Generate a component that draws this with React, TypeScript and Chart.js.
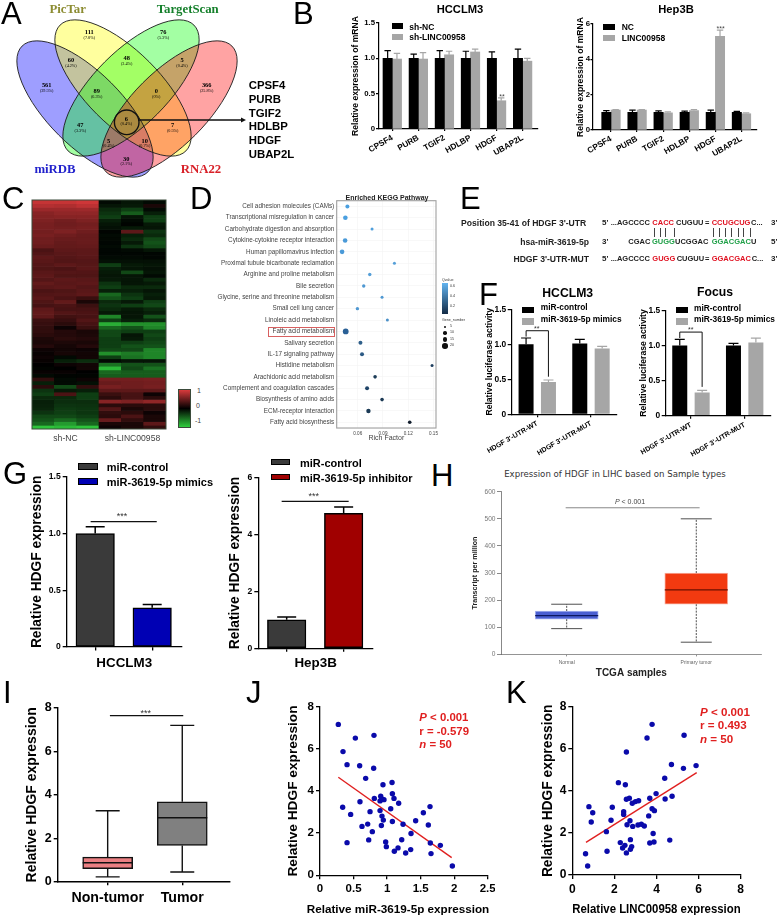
import React, { useEffect, useRef } from "react";
import { Chart, registerables } from "chart.js";

Chart.register(...registerables);

const SANS = '"Liberation Sans", Arial, sans-serif';
const SERIF = '"Liberation Serif", "Times New Roman", serif';
Chart.defaults.font.family = SANS;

/* ---------- data ---------- */
const GENES = ["CPSF4", "PURB", "TGIF2", "HDLBP", "HDGF", "UBAP2L"];
const B1_NC = [1, 1, 1, 1, 1, 1];
const B1_NC_ERR = [0.11, 0.06, 0.11, 0.1, 0.09, 0.13];
const B1_SH = [0.99, 0.99, 1.05, 1.09, 0.4, 0.96];
const B1_SH_ERR = [0.08, 0.09, 0.05, 0.04, 0.04, 0.04];
const B2_NC = [1, 1, 1, 1, 1, 1];
const B2_NC_ERR = [0.1, 0.12, 0.08, 0.07, 0.13, 0.05];
const B2_LINC = [1.13, 1.13, 0.97, 1.1, 5.3, 0.92];
const B2_LINC_ERR = [0.03, 0.03, 0.06, 0.06, 0.35, 0.05];

const VENN_CX = [85, 123, 131, 169];
const VENN_CY = [109, 88, 88, 109];
const VENN_ANGLE = [45, 45, -45, -45];
const VENN_RX = [89, 89, 89, 89];
const VENN_RY = [37, 37, 37, 37];
const VENN_FILL = ["rgba(0,0,255,.38)", "rgba(255,255,0,.38)", "rgba(0,255,0,.36)", "rgba(255,0,0,.36)"];
const VENN_COUNTS: [string, string, number, number][] = [
  ["111", "(7.8%)", 89.3, 32.3], ["76", "(5.3%)", 163.3, 32.3], ["60", "(4.2%)", 71, 60],
  ["48", "(3.4%)", 126.7, 58.3], ["5", "(0.4%)", 182, 60], ["561", "(39.5%)", 46.7, 85],
  ["89", "(6.3%)", 96.7, 91], ["0", "(0%)", 156.3, 91], ["366", "(25.8%)", 206.7, 85],
  ["47", "(3.3%)", 80.3, 125], ["6", "(0.4%)", 126.3, 118.7], ["7", "(0.5%)", 172.7, 125],
  ["5", "(0.4%)", 108.7, 140.7], ["10", "(0.7%)", 144.7, 140.7], ["30", "(2.1%)", 126.3, 158.7],
];
const VENN_GENES = ["CPSF4", "PURB", "TGIF2", "HDLBP", "HDGF", "UBAP2L"];

const HEAT_COLUMNS = ["", "sh-NC", "", "", "sh-LINC00958", ""];
const HEAT: number[][] = [
  [.85,.85,.9,-.05,-.1,-.05],[.75,.72,.8,-.1,-.12,.05],[.6,.6,.62,-.2,-.3,-.05],[.5,.55,.55,-.25,-.45,-.15],
  [.48,.5,.5,-.3,-.1,-.3],[.45,.4,.45,-.15,-.05,-.3],[.42,.38,.4,-.1,-.02,-.12],[.42,.4,.42,-.08,-.12,-.1],
  [.4,.45,.38,-.02,.3,-.25],[.42,.38,.35,-.05,-.15,-.2],[.38,.35,.35,-.04,-.2,-.35],[.38,.33,.35,-.03,-.12,-.4],
  [.35,.32,.33,-.05,-.25,-.35],[.22,.3,.3,-.03,-.05,-.1],[.25,.28,.3,-.03,-.03,-.03],[.3,.26,.28,-.05,-.05,-.03],
  [.28,.25,.26,-.08,-.08,-.08],[.26,.3,.27,-.3,-.12,-.1],[.24,.22,.28,-.15,-.1,-.08],[.28,.26,.25,-.12,-.35,-.1],
  [.3,.24,.24,-.1,-.1,-.05],[.26,.3,.28,-.12,-.1,-.2],[.32,.28,.3,-.25,-.1,-.12],[.28,.3,.26,-.3,-.2,-.2],
  [.22,.24,.28,-.15,-.15,-.1],[.25,.26,.3,-.5,-.25,-.15],[.28,.22,.15,-.4,-.3,-.12],[.24,.32,.05,-.2,-.12,-.3],
  [.2,.22,.16,-.25,-.3,-.35],[.3,.2,.2,-.2,-.12,-.2],[.32,.25,.22,-.12,-.1,-.15],[.3,.18,.2,-.65,-.1,-.4],
  [.16,.14,.25,-.3,-.15,-.2],[.14,.1,.2,-.85,-.7,-.7],[.12,.02,.15,-.5,-.4,-.65],[.12,.08,.05,-.35,-.3,-.3],
  [.1,.08,.06,-.35,-.1,-.35],[.06,.1,.08,-.3,-.12,-.3],[.05,.06,.05,-.3,-.3,-.35],[.08,.04,.08,-.3,-.4,-.4],
  [.02,.03,.02,-.35,-.35,-.65],[.01,.04,.03,-.7,-.6,-.65],[.02,-.05,.03,-.3,-.55,-.65],[.01,-.15,-.22,-.05,-.1,-.1],
  [0,.02,.03,-.55,-.4,-.4],[-.02,0,.03,-.9,-.35,-.55],[.01,.01,0,-.5,-.45,-.45],[-.05,-.02,-.02,-.45,-.45,-.45],
  [.12,-.05,.02,.4,.4,.42],[-.15,-.05,-.08,.35,.38,.4],[.1,-.35,.12,.42,.38,.42],[-.25,-.12,-.15,.3,.3,.3],
  [-.3,.22,-.3,.15,.2,.02],[-.2,-.2,-.3,.1,.2,.1],[-.15,-.22,-.22,.5,.45,.55],[-.16,-.25,-.24,.1,.1,.1],
  [-.18,-.28,-.26,.25,.05,.1],[-.25,-.3,-.26,.12,.1,.02],[-.35,-.35,-.3,.1,.22,.05],[-.4,-.5,-.4,.35,.12,.05],
  [-.5,-.75,-.5,.05,.05,.3],[-.95,-.9,-.95,.02,.05,.12],
];

const PATHWAYS = [
  "Cell adhesion molecules (CAMs)", "Transcriptional misregulation in cancer", "Carbohydrate digestion and absorption",
  "Cytokine-cytokine receptor interaction", "Human papillomavirus infection", "Proximal tubule bicarbonate reclamation",
  "Arginine and proline metabolism", "Bile secretion", "Glycine, serine and threonine metabolism", "Small cell lung cancer",
  "Linoleic acid metabolism", "Fatty acid metabolism", "Salivary secretion", "IL-17 signaling pathway", "Histidine metabolism",
  "Arachidonic acid metabolism", "Complement and coagulation cascades", "Biosynthesis of amino acids",
  "ECM-receptor interaction", "Fatty acid biosynthesis",
];
const RICH = [.0477,.0453,.077,.045,.0414,.1036,.0743,.0671,.0889,.0596,.0952,.0457,.0632,.0651,.1483,.0806,.0711,.0889,.0727,.1218];
const DOT_R = [2,2.3,1.5,2.3,2.3,1.5,1.7,1.7,1.5,1.7,1.5,2.9,2,2,1.5,1.8,2,1.8,2.2,1.8];
const DOT_C = ["#4a9fe0","#4a9fe0","#4f9fdc","#4a9ad8","#4a9ad8","#559fd8","#559fd8","#4f98d2","#4f98d2","#4f98d2","#4a90c8","#2a6096","#2f5f8a","#2c5a85","#1f3f5f","#1d3d58","#1f4468","#1c3a55","#1b3a55","#111d2c"];

const F_GROUPS = ["HDGF 3'-UTR-WT", "HDGF 3'-UTR-MUT"];
const F1_CTRL = [1, 1.01];
const F1_CTRL_ERR = [0.09, 0.06];
const F1_MIM = [0.46, 0.94];
const F1_MIM_ERR = [0.03, 0.03];
const F2_CTRL = [1, 1];
const F2_CTRL_ERR = [0.085, 0.03];
const F2_MIM = [0.33, 1.04];
const F2_MIM_ERR = [0.03, 0.065];

const G1_VALUES = [1, 0.345];
const G1_ERR = [0.06, 0.03];
const G2_VALUES = [1, 4.75];
const G2_ERR = [0.1, 0.22];

const H_LABELS = ["Normal", "Primary tumor"];
const H_LOW = [95, 45];
const H_Q1 = [130, 185];
const H_MED = [143, 238];
const H_Q3 = [160, 300];
const H_HIGH = [185, 500];

const I_LABELS = ["Non-tumor", "Tumor"];
const I_LOW = [0.22, 0.45];
const I_Q1 = [0.6, 1.67];
const I_MED = [0.87, 2.95];
const I_Q3 = [1.13, 3.68];
const I_HIGH = [3.27, 7.2];

const J_X = [.273,.527,.805,.343,.403,.591,.8,.681,.939,1.074,1.079,1.103,.81,.905,.919,.954,.895,.596,.338,1.173,1.054,.895,.457,.746,.924,.944,1.079,1.541,1.64,1.426,1.238,1.615,.711,.626,.915,.78,1.357,1.218,.726,.403,.979,.989,1.794,1.645,1.163,1.108,1.352,1.277,1.655,1.973];
const J_Y = [7.16,6.51,6.64,5.87,5.25,5.2,5.08,4.6,4.3,4.4,3.87,3.65,3.65,3.75,3.62,3.59,3.53,3.49,3.23,3.42,3.16,3.07,2.89,3.02,2.81,2.62,2.55,2.97,3.26,2.59,2.42,2.39,2.43,2.32,2.36,2.07,1.98,1.69,1.68,1.55,1.58,1.36,1.42,1.53,1.3,1.14,1.22,1.06,1.03,.44];
const J_FIT_X = [0.273, 1.963];
const J_FIT_Y = [4.65, 0.84];

const K_X = [3.79,3.55,5.31,2.57,4.71,5.28,5.88,4.39,2.19,2.52,3.98,4.74,2.57,2.71,3.68,4.41,2.85,3,3.15,1.9,.79,3.79,3.9,.97,2.44,2.44,3.63,1.84,2.74,.9,2.6,2.87,3.12,3.28,3.42,1.62,3.84,2.76,4.63,2.28,3.68,3.88,2.5,2.82,2.39,2.76,1.65,2.57,.63,.73];
const K_Y = [7.16,6.51,6.64,5.85,5.25,5.07,5.2,4.6,4.39,4.29,3.87,3.74,3.6,3.65,3.65,3.61,3.41,3.49,3.53,3.22,3.25,3.15,3.06,2.96,3.01,2.88,2.81,2.6,2.58,2.52,2.39,2.31,2.38,2.41,2.33,2.06,1.97,1.68,1.66,1.54,1.52,1.57,1.41,1.35,1.28,1.22,1.13,1.05,1.01,.43];
const K_FIT_X = [0.65, 5.91];
const K_FIT_Y = [1.55, 4.87];

/* ---------- plugins ---------- */
const errorBars = {
  id: "errorBars",
  afterDatasetsDraw(chart: any) {
    const ctx = chart.ctx;
    chart.data.datasets.forEach((ds: any, i: number) => {
      if (!ds.errors) return;
      const meta = chart.getDatasetMeta(i);
      ctx.save();
      ctx.strokeStyle = ds.errColor || ds.backgroundColor;
      ctx.lineWidth = ds.errWidth || 1.2;
      meta.data.forEach((el: any, j: number) => {
        const y = chart.scales.y.getPixelForValue(ds.values[j] + ds.errors[j]);
        const cap = ds.cap || 3;
        ctx.beginPath();
        ctx.moveTo(el.x, el.y);
        ctx.lineTo(el.x, y);
        ctx.moveTo(el.x - cap, y);
        ctx.lineTo(el.x + cap, y);
        ctx.stroke();
      });
      ctx.restore();
    });
  },
};

const boxes = {
  id: "boxes",
  afterDatasetsDraw(chart: any) {
    const ctx = chart.ctx;
    const y = chart.scales.y;
    chart.data.datasets.forEach((ds: any, i: number) => {
      if (!ds.med) return;
      const meta = chart.getDatasetMeta(i);
      meta.data.forEach((el: any, j: number) => {
        ctx.save();
        ctx.strokeStyle = ds.whiskColor;
        ctx.lineWidth = ds.whiskWidth;
        ctx.setLineDash(ds.whiskDash || []);
        ctx.beginPath();
        ctx.moveTo(el.x, y.getPixelForValue(ds.q3[j]));
        ctx.lineTo(el.x, y.getPixelForValue(ds.high[j]));
        ctx.moveTo(el.x, y.getPixelForValue(ds.q1[j]));
        ctx.lineTo(el.x, y.getPixelForValue(ds.low[j]));
        ctx.stroke();
        ctx.setLineDash([]);
        ctx.beginPath();
        [ds.high[j], ds.low[j]].forEach((v: number) => {
          ctx.moveTo(el.x - ds.capHalf, y.getPixelForValue(v));
          ctx.lineTo(el.x + ds.capHalf, y.getPixelForValue(v));
        });
        ctx.stroke();
        ctx.strokeStyle = ds.medColors[j];
        ctx.lineWidth = ds.medWidth;
        ctx.beginPath();
        ctx.moveTo(el.x - ds.barThickness / 2, y.getPixelForValue(ds.med[j]));
        ctx.lineTo(el.x + ds.barThickness / 2, y.getPixelForValue(ds.med[j]));
        ctx.stroke();
        ctx.restore();
      });
    });
  },
};

type Poly = { pts: number[][]; color: string; width: number };
const annot = (list: Poly[]) => ({
  id: "annot",
  afterDatasetsDraw(chart: any) {
    const { ctx, scales } = chart;
    list.forEach((p) => {
      ctx.save();
      ctx.strokeStyle = p.color;
      ctx.lineWidth = p.width;
      ctx.beginPath();
      p.pts.forEach(([a, b], i) => {
        const px = scales.x.getPixelForValue(a);
        const py = scales.y.getPixelForValue(b);
        if (i) ctx.lineTo(px, py);
        else ctx.moveTo(px, py);
      });
      ctx.stroke();
      ctx.restore();
    });
  },
});

const frame = (color: string, width: number) => ({
  id: "frame",
  afterDatasetsDraw(chart: any) {
    const { ctx, chartArea: a } = chart;
    ctx.save();
    ctx.strokeStyle = color;
    ctx.lineWidth = width;
    ctx.strokeRect(a.left, a.top, a.right - a.left, a.bottom - a.top);
    ctx.restore();
  },
});

const venn = {
  id: "venn",
  beforeDatasetsDraw(chart: any) {
    const { ctx, scales } = chart;
    const draw = (i: number) => {
      ctx.beginPath();
      ctx.ellipse(
        scales.x.getPixelForValue(VENN_CX[i]), scales.y.getPixelForValue(VENN_CY[i]),
        VENN_RX[i], VENN_RY[i], (VENN_ANGLE[i] * Math.PI) / 180, 0, Math.PI * 2
      );
    };
    ctx.save();
    VENN_CX.forEach((_, i) => { draw(i); ctx.fillStyle = VENN_FILL[i]; ctx.fill(); });
    ctx.strokeStyle = "#1a1a1a";
    ctx.lineWidth = 0.9;
    VENN_CX.forEach((_, i) => { draw(i); ctx.stroke(); });
    const cx = scales.x.getPixelForValue(126.7), cy = scales.y.getPixelForValue(122.3);
    ctx.lineWidth = 1.4;
    ctx.strokeStyle = "#111";
    ctx.beginPath(); ctx.arc(cx, cy, 12.3, 0, Math.PI * 2); ctx.stroke();
    ctx.beginPath(); ctx.moveTo(138, 120); ctx.lineTo(243, 120); ctx.stroke();
    ctx.fillStyle = "#111";
    ctx.beginPath(); ctx.moveTo(246, 120); ctx.lineTo(241, 117.6); ctx.lineTo(241, 122.4); ctx.closePath(); ctx.fill();
    ctx.restore();
  },
};

/* ---------- layout helpers ---------- */
type R = { x: number; y: number; w: number; h: number };
type P = { l: number; t: number; r: number; b: number };
const layout = (c: R, p: P) => ({
  autoPadding: false,
  padding: { left: 0, top: p.t - c.y, right: c.x + c.w - p.r, bottom: 0 },
});
const zero = (s: any) => { s.paddingLeft = s.paddingRight = s.paddingTop = s.paddingBottom = 0; };

function axisY(c: R, p: P, o: any) {
  const titleSize = o.titleSize || 8;
  return {
    type: o.type || "linear",
    min: o.min, max: o.max,
    labels: o.labels, offset: o.offset,
    ticks: {
      stepSize: o.step, autoSkip: false, padding: o.pad ?? 2, color: o.color || "#000",
      font: { size: o.size, weight: o.bold === false ? "normal" : "bold", family: SANS },
    },
    grid: { display: true, drawOnChartArea: !!o.grid, drawTicks: true, tickLength: o.tick ?? 4, color: o.grid || o.axisColor || "#000", lineWidth: o.lw ?? 1.2 },
    border: { display: o.noBorder ? false : true, color: o.axisColor || "#000", width: o.lw ?? 1.2 },
    title: o.title ? {
      display: true, text: o.title, color: o.titleColor || "#000",
      font: { size: titleSize, weight: "bold", family: SANS },
      padding: { top: o.titleX - c.x - titleSize * 0.6, bottom: 0 },
    } : { display: false },
    afterFit: (s: any) => { s.width = p.l - c.x; zero(s); },
  };
}

function axisX(c: R, p: P, o: any) {
  const titleSize = o.titleSize || 8;
  const labels: string[] | undefined = o.labels;
  return {
    type: "linear",
    offset: false,
    min: o.min, max: o.max,
    afterBuildTicks: labels ? (s: any) => { s.ticks = labels.map((_, i) => ({ value: i })); } : undefined,
    ticks: {
      stepSize: o.step, autoSkip: false, padding: o.pad ?? 2, color: o.color || "#000", includeBounds: false,
      minRotation: o.rot || 0, maxRotation: o.rot || 0,
      font: { size: o.size, weight: o.bold === false ? "normal" : "bold", family: SANS },
      callback: labels ? (v: number) => labels[v] : undefined,
    },
    grid: { display: true, offset: false, drawOnChartArea: !!o.grid, drawTicks: true, tickLength: o.tick ?? 4, color: o.grid || o.axisColor || "#000", lineWidth: o.lw ?? 1.2 },
    border: { display: o.noBorder ? false : true, color: o.axisColor || "#000", width: o.lw ?? 1.2 },
    title: o.title ? {
      display: true, text: o.title, color: o.titleColor || "#000",
      font: { size: titleSize, weight: o.titleNormal ? "normal" : "bold", family: SANS },
      padding: { top: 0, bottom: c.y + c.h - o.titleY - titleSize * 0.6 },
    } : { display: false },
    afterFit: (s: any) => { s.height = c.y + c.h - p.b; zero(s); },
  };
}

const pts = (values: number[]) => values.map((y, x) => ({ x, y }));
const baseOptions = (c: R, p: P, scales: any) => ({
  responsive: false, animation: false as const, devicePixelRatio: 1,
  layout: layout(c, p),
  plugins: { legend: { display: false }, tooltip: { enabled: false }, title: { display: false } },
  scales,
});

function barDs(values: number[], errors: number[], color: any, extra: any = {}) {
  return {
    data: pts(values), values, errors, backgroundColor: color, errColor: color, borderWidth: 0, borderSkipped: false, ...extra,
  };
}

function groupedBars(c: R, p: P, a: number[], ae: number[], b: number[], be: number[], yo: any, xo: any, thick: any, cap: number, extra: any[] = [], gray = "#a6a6a6") {
  return {
    rect: c,
    config: {
      type: "bar",
      data: { datasets: [
        barDs(a, ae, "#000", { ...thick, cap }),
        barDs(b, be, gray, { ...thick, cap }),
      ] },
      options: baseOptions(c, p, { x: axisX(c, p, xo), y: axisY(c, p, yo) }),
      plugins: [errorBars, annot(extra)],
    },
  };
}

function scatterChart(c: R, p: P, X: number[], Y: number[], fx: number[], fy: number[], xo: any, yo: any) {
  return {
    rect: c,
    config: {
      type: "scatter",
      data: { datasets: [
        { data: X.map((x, i) => ({ x, y: Y[i] })), backgroundColor: "#0a0aaa", pointRadius: 2.7, pointBorderWidth: 0, showLine: false },
        { data: fx.map((x, i) => ({ x, y: fy[i] })), borderColor: "#e02020", borderWidth: 1.4, pointRadius: 0, showLine: true },
      ] },
      options: baseOptions(c, p, { x: axisX(c, p, xo), y: axisY(c, p, yo) }),
    },
  };
}

const heatColor = (v: number) => {
  const t = v >= 0 ? Math.pow(v, 0.72) : -v;
  const rgb = v >= 0 ? [222, 58, 60] : [48, 205, 62];
  return `rgb(${rgb.map((k) => Math.round(k * t)).join(",")})`;
};

function buildCharts() {
  const list: { rect: R; config: any }[] = [];

  // A
  const vc = { x: 0, y: 0, w: 260, h: 190 };
  list.push({
    rect: vc,
    config: {
      type: "scatter",
      data: { datasets: [{ data: VENN_COUNTS.map((r) => ({ x: r[2], y: r[3] })), pointRadius: 0 }] },
      options: {
        responsive: false, animation: false, devicePixelRatio: 1,
        plugins: { legend: { display: false }, tooltip: { enabled: false } },
        scales: {
          x: { type: "linear", display: false, min: 0, max: 260 },
          y: { type: "linear", display: false, min: 0, max: 190, reverse: true },
        },
      },
      plugins: [venn],
    },
  });

  // B
  const b1c = { x: 340, y: 15, w: 205, h: 165 }, b1p = { l: 379, t: 23, r: 538, b: 129 };
  list.push(groupedBars(b1c, b1p, B1_NC, B1_NC_ERR, B1_SH, B1_SH_ERR,
    { min: 0, max: 1.5, step: 0.5, size: 7.8, title: "Relative expression of mRNA", titleX: 356, titleSize: 8.6, tick: 3, pad: 1 },
    { min: -0.51, max: 5.59, labels: GENES, size: 8.2, rot: 30, tick: 2, pad: 2 }, { barThickness: 9.3 }, 3.2));
  const b2c = { x: 555, y: 15, w: 215, h: 165 }, b2p = { l: 593, t: 24, r: 757, b: 130 };
  list.push(groupedBars(b2c, b2p, B2_NC, B2_NC_ERR, B2_LINC, B2_LINC_ERR,
    { min: 0, max: 6, step: 2, size: 7.8, title: "Relative expression of mRNA", titleX: 580.6, titleSize: 8.6, tick: 2.5, pad: 0.5 },
    { min: -0.69, max: 5.595, labels: GENES, size: 8.2, rot: 30, tick: 2, pad: 2 }, { barThickness: 9.3 }, 3.2));

  // C
  const cc = { x: 28, y: 196, w: 142, h: 250 }, cp = { l: 32, t: 200, r: 166, b: 429 };
  list.push({
    rect: cc,
    config: {
      type: "bar",
      data: {
        labels: HEAT_COLUMNS,
        datasets: HEAT.map((row) => ({
          data: row.map(() => 1),
          backgroundColor: row.map(heatColor),
          borderWidth: 0, barPercentage: 1, categoryPercentage: 1, stack: "s",
        })),
      },
      options: baseOptions(cc, cp, {
        x: {
          type: "category", stacked: true,
          ticks: { autoSkip: false, maxRotation: 0, minRotation: 0, padding: 4, color: "#444", font: { size: 8.6, family: SANS } },
          grid: { display: false, drawTicks: false }, border: { display: false },
          afterFit: (s: any) => { s.height = cc.y + cc.h - cp.b; zero(s); },
        },
        y: {
          type: "linear", stacked: true, reverse: true, display: true, min: 0, max: HEAT.length,
          ticks: { display: false }, grid: { display: false }, border: { display: false },
          afterFit: (s: any) => { s.width = cp.l - cc.x; zero(s); },
        },
      }),
      plugins: [frame("#3a4a3a", 1)],
    },
  });

  // D
  const dc = { x: 205, y: 190, w: 240, h: 255 }, dp = { l: 336.7, t: 200.7, r: 436, b: 428 };
  list.push({
    rect: dc,
    config: {
      type: "scatter",
      data: { datasets: [{
        data: RICH.map((x, i) => ({ x, y: PATHWAYS[i] })),
        pointRadius: DOT_R, backgroundColor: DOT_C, pointBorderWidth: 0, showLine: false,
      }] },
      options: baseOptions(dc, dp, {
        x: axisX(dc, dp, { min: 0.035, max: 0.153, step: 0.03, size: 4.6, bold: false, color: "#444", tick: 1, pad: 1.5, lw: 0.5, grid: "#f1f1f1", axisColor: "#f1f1f1", title: "Rich Factor", titleNormal: true, titleY: 438, titleSize: 7, titleColor: "#444" }),
        y: axisY(dc, dp, { type: "category", labels: PATHWAYS, offset: true, size: 6.35, bold: false, color: "#444", tick: 1, pad: 1.5, lw: 0.5, grid: "#f1f1f1", axisColor: "#f1f1f1" }),
      }),
      plugins: [frame("#a0a0a0", 1.1)],
    },
  });

  // F
  const f1c = { x: 470, y: 300, w: 155, h: 160 }, f1p = { l: 511.7, t: 309.3, r: 616.7, b: 414.3 };
  const fxo = { labels: F_GROUPS, size: 7, rot: 30, tick: 3, pad: 2, min: -0.476, max: 1.479 };
  list.push(groupedBars(f1c, f1p, F1_CTRL, F1_CTRL_ERR, F1_MIM, F1_MIM_ERR,
    { min: 0, max: 1.5, step: 0.5, size: 8.4, title: "Relative luciferase activity", titleX: 490, titleSize: 8.6, pad: 1.5 },
    fxo, { barPercentage: 0.67, categoryPercentage: 0.834 }, 5,
    [{ pts: [[-0.208, 1.11], [-0.208, 1.194], [0.208, 1.194], [0.208, 0.537]], color: "#111", width: 1 }]));
  const f2c = { x: 625, y: 300, w: 153, h: 160 }, f2p = { l: 665.7, t: 310.3, r: 771, b: 415.7 };
  list.push(groupedBars(f2c, f2p, F2_CTRL, F2_CTRL_ERR, F2_MIM, F2_MIM_ERR,
    { min: 0, max: 1.5, step: 0.5, size: 8.4, title: "Relative luciferase activity", titleX: 644, titleSize: 8.6, pad: 1.5 },
    { ...fxo, min: -0.47, max: 1.49 }, { barPercentage: 0.67, categoryPercentage: 0.834 }, 5,
    [{ pts: [[-0.208, 1.105], [-0.208, 1.19], [0.208, 1.19], [0.208, 0.41]], color: "#111", width: 1 }]));

  // G
  const gBar = (c: R, p: P, values: number[], errs: number[], colors: string[], yo: any, xo: any, line: number[][]) => ({
    rect: c,
    config: {
      type: "bar",
      data: { datasets: [{
        data: pts(values), values, errors: errs, backgroundColor: colors, errColor: "#000", errWidth: 1.5, cap: 9.5,
        borderColor: "#000", borderWidth: 1.5, borderSkipped: false, barThickness: 38.5,
      }] },
      options: baseOptions(c, p, { x: axisX(c, p, xo), y: axisY(c, p, yo) }),
      plugins: [errorBars, annot([{ pts: line, color: "#111", width: 1.2 }])],
    },
  });
  const g1c = { x: 20, y: 470, w: 170, h: 205 }, g1p = { l: 66.7, t: 476.7, r: 181.7, b: 647 };
  list.push(gBar(g1c, g1p, G1_VALUES, G1_ERR, ["#3a3a3a", "#0000b4"],
    { min: 0, max: 1.5, step: 0.5, size: 8.6, title: "Relative HDGF expression", titleX: 36.7, titleSize: 13.8, pad: 2, lw: 1.3 },
    { min: -0.5, max: 1.518, labels: ["", ""], size: 6, tick: 3.5, lw: 1.3, title: "HCCLM3", titleY: 663, titleSize: 13.4 },
    [[-0.08, 1.104], [1.08, 1.104]]));
  const g2c = { x: 218, y: 470, w: 160, h: 205 }, g2p = { l: 258.3, t: 477.7, r: 373, b: 648.3 };
  list.push(gBar(g2c, g2p, G2_VALUES, G2_ERR, ["#3a3a3a", "#a00000"],
    { min: 0, max: 6, step: 2, size: 8.6, title: "Relative HDGF expression", titleX: 235, titleSize: 13.8, pad: 2, lw: 1.3 },
    { min: -0.498, max: 1.515, labels: ["", ""], size: 6, tick: 3.5, lw: 1.3, title: "Hep3B", titleY: 663, titleSize: 13.4 },
    [[-0.088, 5.17], [1.088, 5.17]]));

  // H
  const hc = { x: 465, y: 485, w: 305, h: 195 }, hp = { l: 501, t: 491.7, r: 761.7, b: 654.4 };
  list.push({
    rect: hc,
    config: {
      type: "bar",
      data: { datasets: [{
        data: H_Q1.map((q, i) => ({ x: i, y: [q, H_Q3[i]] })),
        low: H_LOW, q1: H_Q1, med: H_MED, q3: H_Q3, high: H_HIGH,
        backgroundColor: ["#4a5fd2", "#f23a10"], borderColor: ["#a8b4ee", "#f8b0a0"], borderWidth: 1, borderSkipped: false,
        barThickness: 63, whiskColor: "#222", whiskWidth: 0.8, whiskDash: [2, 1.2], capHalf: 15.5,
        medColors: ["#0c1860", "#6a1000"], medWidth: 1.3,
      }] },
      options: baseOptions(hc, hp, {
        x: axisX(hc, hp, { min: -0.507, max: 1.505, labels: H_LABELS, size: 5, bold: false, color: "#666", tick: 2, pad: 3, lw: 0.7, axisColor: "#666", title: "TCGA samples", titleY: 673.3, titleSize: 10, titleColor: "#222" }),
        y: axisY(hc, hp, { min: 0, max: 600, step: 100, size: 6.6, bold: false, color: "#777", tick: 4, pad: 1.5, lw: 0.7, axisColor: "#555", title: "Transcript per million", titleX: 474.7, titleSize: 7.2, titleColor: "#222" }),
      }),
      plugins: [boxes, annot([{ pts: [[-0.008, 540.7], [1.026, 540.7]], color: "#888", width: 1 }])],
    },
  });

  // I
  const ic = { x: 15, y: 700, w: 225, h: 210 }, ip = { l: 57.7, t: 708, r: 230, b: 881.7 };
  list.push({
    rect: ic,
    config: {
      type: "bar",
      data: { datasets: [{
        data: I_Q1.map((q, i) => ({ x: i, y: [q, I_Q3[i]] })),
        low: I_LOW, q1: I_Q1, med: I_MED, q3: I_Q3, high: I_HIGH,
        backgroundColor: ["#ea7f82", "#808080"], borderColor: "#111", borderWidth: 1.5, borderSkipped: false,
        barThickness: 50, whiskColor: "#111", whiskWidth: 1.4, capHalf: 12,
        medColors: ["#111", "#111"], medWidth: 1.5,
      }] },
      options: baseOptions(ic, ip, {
        x: axisX(ic, ip, { min: -0.67, max: 1.64, labels: I_LABELS, size: 14.2, tick: 3.5, pad: 4, lw: 1.4 }),
        y: axisY(ic, ip, { min: 0, max: 8, step: 2, size: 12.5, tick: 4, pad: 2, lw: 1.4, title: "Relative HDGF expression", titleX: 31.7, titleSize: 14 }),
      }),
      plugins: [boxes, annot([{ pts: [[0.03, 7.65], [1.013, 7.65]], color: "#111", width: 1.3 }])],
    },
  });

  // J
  const jc = { x: 280, y: 700, w: 215, h: 215 }, jp = { l: 320, t: 706.7, r: 487.7, b: 875.3 };
  list.push(scatterChart(jc, jp, J_X, J_Y, J_FIT_X, J_FIT_Y,
    { min: 0, max: 2.5, step: 0.5, size: 11.5, tick: 4, pad: 3, lw: 1.3 },
    { min: 0, max: 8, step: 2, size: 11.5, tick: 4, pad: 2, lw: 1.3, title: "Relative HDGF expression", titleX: 293.3, titleSize: 13.7 }));

  // K
  const kc = { x: 530, y: 700, w: 220, h: 215 }, kp = { l: 572.3, t: 706.7, r: 740.7, b: 875 };
  list.push(scatterChart(kc, kp, K_X, K_Y, K_FIT_X, K_FIT_Y,
    { min: 0, max: 8, step: 2, size: 12, tick: 4, pad: 3, lw: 1.3, title: "Relative LINC00958 expression", titleY: 909, titleSize: 12.7 },
    { min: 0, max: 8, step: 2, size: 12, tick: 4, pad: 2, lw: 1.3, title: "Relative HDGF expression", titleX: 548, titleSize: 13.8 }));

  return list;
}

/* ---------- DOM text ---------- */
const T = ({ x, y, s, b, c, f, a = "l", children, i }: any) => (
  <div style={{
    position: "absolute", left: x, top: y,
    transform: `translate(${a === "c" ? -50 : a === "r" ? -100 : 0}%,-50%)`,
    fontSize: s, fontWeight: b ? 700 : 400, fontStyle: i ? "italic" : "normal",
    color: c || "#000", fontFamily: f || SANS, whiteSpace: "nowrap", lineHeight: 1,
  }}>{children}</div>
);
const Sw = ({ x, y, w, h, c, bd }: any) => (
  <div style={{ position: "absolute", left: x, top: y, width: w, height: h, background: c, boxSizing: "border-box", border: bd ? `1px solid ${bd}` : "none" }} />
);

const RED = "#e01020";
const GREEN = "#1fa048";
const seqX = (z: number) => 445 + z / 3;
const SEQ_ROWS: [number, [number, string, string][]][] = [
  [223, [[497, "...AGCCCC", "#222"], [622, "CACC", RED], [693, "CUGUU", "#222"], [780, "=", "#222"], [800, "CCUGCUG", RED], [918, "C...", "#222"]]],
  [242, [[550, "CGAC", "#222"], [621, "GUGG", GREEN], [690, "UCGGAC", "#222"], [800, "GGACGAC", GREEN], [918, "U", "#222"]]],
  [259, [[497, "...AGCCCC", "#222"], [622, "GUGG", RED], [695, "CUGUU", "#222"], [780, "=", "#222"], [800, "GGACGAC", RED], [920, "C...", "#222"]]],
];
const PAIR_LINES = [628, 645, 660, 688, 805, 823, 840, 858, 878, 895, 915];
const KEGG_SIZES: [string, number, number][] = [["5", 327, 1.3], ["10", 333, 1.8], ["15", 339.5, 2.3], ["20", 346, 2.8]];

export default function App() {
  const specs = useRef(buildCharts());
  const refs = useRef<(HTMLCanvasElement | null)[]>([]);

  useEffect(() => {
    const charts = specs.current.map((s, i) => new Chart(refs.current[i] as any, s.config));
    return () => charts.forEach((c) => c.destroy());
  }, []);

  const letters: [string, number, number][] = [
    ["A", 1, 13], ["B", 293, 13], ["C", 2, 198], ["D", 190, 198], ["E", 460, 198], ["F", 479, 294],
    ["G", 3, 473], ["H", 431, 475], ["I", 3, 692], ["J", 246, 692], ["K", 506, 692],
  ];

  return (
    <div style={{ position: "absolute", left: 0, top: 0, width: 778, height: 917, background: "#fff", overflow: "hidden" }}>
      {specs.current.map((s, i) => (
        <canvas key={i} ref={(el) => { refs.current[i] = el; }} width={s.rect.w} height={s.rect.h}
          style={{ position: "absolute", left: s.rect.x, top: s.rect.y, width: s.rect.w, height: s.rect.h }} />
      ))}

      {letters.map(([l, x, y]) => <T key={l} x={x} y={y} s={31}>{l}</T>)}

      {/* A */}
      <T x={67.7} y={9.3} s={12.8} b f={SERIF} c="#8c8c32" a="c">PicTar</T>
      <T x={187.7} y={9.3} s={12.8} b f={SERIF} c="#16802c" a="c">TargetScan</T>
      <T x={55} y={169.3} s={12.8} b f={SERIF} c="#2222cc" a="c">miRDB</T>
      <T x={201} y={169.3} s={12.8} b f={SERIF} c="#d82028" a="c">RNA22</T>
      {VENN_COUNTS.map(([n, pc, x, y], i) => (
        <React.Fragment key={i}>
          <T x={x} y={y} s={6.4} b f={SERIF} a="c">{n}</T>
          <T x={x} y={y + 5.6} s={4.2} f={SERIF} a="c">{pc}</T>
        </React.Fragment>
      ))}
      {VENN_GENES.map((g, i) => <T key={g} x={248.7} y={85.7 + i * 13.93} s={11.4} b>{g}</T>)}

      {/* B */}
      <T x={460} y={10} s={11.2} b a="c">HCCLM3</T>
      <T x={676} y={10} s={11.2} b a="c">Hep3B</T>
      <Sw x={392.3} y={23.3} w={10.7} h={6} c="#000" /><T x={409.3} y={26.7} s={8.5} b>sh-NC</T>
      <Sw x={392.3} y={34.3} w={10.7} h={6} c="#a6a6a6" /><T x={409.3} y={37} s={8.5} b>sh-LINC00958</T>
      <Sw x={603.3} y={24} w={11.7} h={5.5} c="#000" /><T x={621.7} y={26.7} s={8.5} b>NC</T>
      <Sw x={603.3} y={35} w={11.7} h={5.5} c="#a6a6a6" /><T x={621.7} y={37.5} s={8.5} b>LINC00958</T>
      <T x={502} y={96} s={7} c="#444" a="c">**</T>
      <T x={720.7} y={27.5} s={7} c="#444" a="c">***</T>

      {/* C */}
      <div style={{ position: "absolute", left: 178, top: 389, width: 13, height: 39, boxSizing: "border-box", border: "1px solid #3a4a3a", background: "linear-gradient(#d83a3c, #000 50%, #30cd3e)" }} />
      <T x={197} y={390} s={7} c="#444">1</T>
      <T x={196} y={405} s={7} c="#444">0</T>
      <T x={195} y={420} s={7} c="#444">-1</T>

      {/* D */}
      <T x={387} y={197} s={7} b c="#222" a="c">Enriched KEGG Pathway</T>
      <div style={{ position: "absolute", left: 268.3, top: 326.7, width: 66.4, height: 10.3, boxSizing: "border-box", border: "1px solid #d86060" }} />
      <T x={442} y={280.5} s={3.6} c="#333">Qvalue</T>
      <div style={{ position: "absolute", left: 442, top: 283, width: 6, height: 31, background: "linear-gradient(#62b4f0, #132b46)" }} />
      <T x={450} y={287} s={3.6} c="#333">0.6</T>
      <T x={450} y={297} s={3.6} c="#333">0.4</T>
      <T x={450} y={307} s={3.6} c="#333">0.2</T>
      <T x={442} y={321} s={3.6} c="#333">Gene_number</T>
      {KEGG_SIZES.map(([l, y, r]) => (
        <React.Fragment key={l}>
          <div style={{ position: "absolute", left: 445 - r, top: y - r, width: 2 * r, height: 2 * r, borderRadius: "50%", background: "#111" }} />
          <T x={450} y={y} s={3.6} c="#333">{l}</T>
        </React.Fragment>
      ))}

      {/* E */}
      <T x={461} y={223} s={8.6} b c="#222">Position 35-41 of HDGF 3'-UTR</T>
      <T x={589} y={242} s={8.6} b c="#222" a="r">hsa-miR-3619-5p</T>
      <T x={589} y={259} s={8.6} b c="#222" a="r">HDGF 3'-UTR-MUT</T>
      <T x={602} y={223} s={8} b c="#222">5'</T>
      <T x={602} y={242} s={8} b c="#222">3'</T>
      <T x={602} y={259} s={8} b c="#222">5'</T>
      <T x={771} y={223} s={8} b c="#222">3'</T>
      <T x={771} y={242} s={8} b c="#222">5'</T>
      <T x={771} y={259} s={8} b c="#222">3'</T>
      {SEQ_ROWS.map(([y, parts]) => parts.map(([z, txt, col], i) => (
        <T key={`${y}-${i}`} x={seqX(z)} y={y} s={7.5} b c={col}>{txt}</T>
      )))}
      {PAIR_LINES.map((z) => <Sw key={z} x={seqX(z)} y={228} w={0.8} h={9} c="#444" />)}

      {/* F */}
      <T x={567.7} y={293} s={12.2} b a="c">HCCLM3</T>
      <T x={715} y={292} s={12.2} b a="c">Focus</T>
      <Sw x={522} y={306.5} w={12} h={6.5} c="#000" /><T x={540.7} y={307} s={8.4} b>miR-control</T>
      <Sw x={522} y={318} w={12} h={6.5} c="#a6a6a6" /><T x={540.7} y={318.5} s={8.4} b>miR-3619-5p mimics</T>
      <Sw x={676} y={306.5} w={12} h={6.5} c="#000" /><T x={694} y={307.5} s={8.4} b>miR-control</T>
      <Sw x={676} y={318} w={12} h={6.5} c="#a6a6a6" /><T x={694} y={319} s={8.4} b>miR-3619-5p mimics</T>
      <T x={536.7} y={328} s={7} c="#333" a="c">**</T>
      <T x={690.7} y={329} s={7} c="#333" a="c">**</T>

      {/* G */}
      <Sw x={77.7} y={463} w={20} h={6.5} c="#3a3a3a" bd="#000" /><T x={106.7} y={467} s={11} b>miR-control</T>
      <Sw x={77.7} y={478} w={20} h={6.5} c="#0000b4" bd="#000" /><T x={106.7} y={482} s={11} b>miR-3619-5p mimics</T>
      <T x={122} y={516} s={9} c="#333" a="c">***</T>
      <Sw x={271} y={459} w={19} h={6} c="#3a3a3a" bd="#000" /><T x={300} y={462.5} s={11} b>miR-control</T>
      <Sw x={271} y={474} w={19} h={6} c="#a00000" bd="#000" /><T x={300} y={478} s={11} b>miR-3619-5p inhibitor</T>
      <T x={313.7} y={496} s={9} c="#333" a="c">***</T>

      {/* H */}
      <T x={615} y={474} s={8.6} c="#333" f='"DejaVu Sans", sans-serif' a="c">Expression of HDGF in LIHC based on Sample types</T>
      <T x={630} y={501} s={7} c="#444" a="c"><i>P</i> &lt; 0.001</T>

      {/* I */}
      <T x={145.7} y={712.5} s={9} c="#333" a="c">***</T>

      {/* J */}
      <T x={398} y={909} s={11.7} b a="c">Relative miR-3619-5p expression</T>
      <T x={419.3} y={717.7} s={11.4} b c="#e02020"><i>P</i> &lt; 0.001</T>
      <T x={419.3} y={731.7} s={11.4} b c="#e02020">r = -0.579</T>
      <T x={419.3} y={745.3} s={11.4} b c="#e02020"><i>n</i> = 50</T>

      {/* K */}
      <T x={700} y={712.3} s={11.6} b c="#e02020"><i>P</i> &lt; 0.001</T>
      <T x={700} y={725.3} s={11.6} b c="#e02020">r = 0.493</T>
      <T x={700} y={739} s={11.6} b c="#e02020"><i>n</i> = 50</T>
    </div>
  );
}
